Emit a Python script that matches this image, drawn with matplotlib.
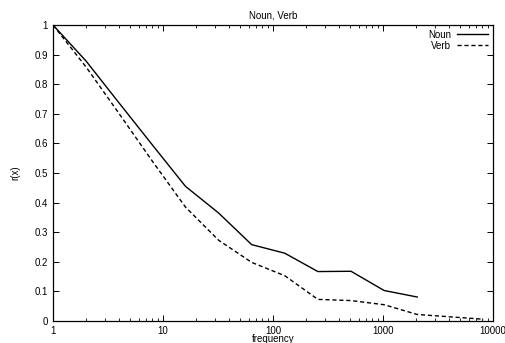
import matplotlib
matplotlib.use("Agg")
import matplotlib.pyplot as plt
from matplotlib.ticker import LogLocator, NullFormatter

# data (x at powers of two)
noun_x = [1, 2, 4, 8, 16, 32, 64, 128, 256, 512, 1024, 2048]
noun_r = [1.0, 0.878, 0.736, 0.595, 0.455, 0.365, 0.258, 0.229, 0.167, 0.168, 0.103, 0.081]
verb_x = [1, 2, 4, 8, 16, 32, 64, 128, 256, 512, 1024, 2048, 4096, 8192]
verb_r = [1.0, 0.858, 0.70, 0.54, 0.385, 0.273, 0.198, 0.153, 0.073, 0.069, 0.055, 0.022, 0.014, 0.006]

xticks = [1, 10, 100, 1000, 10000]
xtick_labels = ["1", "10", "100", "1000", "10000"]
yticks = [0, 0.1, 0.2, 0.3, 0.4, 0.5, 0.6, 0.7, 0.8, 0.9, 1]
ytick_labels = ["0", "0.1", "0.2", "0.3", "0.4", "0.5", "0.6", "0.7", "0.8", "0.9", "1"]

plt.rcParams["font.family"] = ["Liberation Sans", "DejaVu Sans"]

fig = plt.figure(figsize=(5.05, 3.43), dpi=100)
ax = fig.add_axes([53 / 505, 1 - 321 / 343, 440 / 505, 296 / 343])

ax.plot(noun_x, noun_r, color="black", lw=1.0, label="Noun")
ax.plot(verb_x, verb_r, color="black", lw=1.0, ls=(0, (3, 2)), label="Verb")

ax.set_xscale("log")
ax.set_xlim(1, 10000)
ax.set_ylim(0, 1)
ax.set_xticks(xticks)
ax.set_xticklabels(xtick_labels)
ax.xaxis.set_minor_locator(LogLocator(base=10, subs=range(2, 10)))
ax.xaxis.set_minor_formatter(NullFormatter())
ax.set_yticks(yticks)
ax.set_yticklabels(ytick_labels)

ax.tick_params(which="both", direction="in", top=True, right=True, labelsize=7)
ax.tick_params(which="major", length=4, width=0.7)
ax.tick_params(which="minor", length=2, width=0.6)
for s in ax.spines.values():
    s.set_linewidth(0.9)

ax.set_title("Noun, Verb", fontsize=7, pad=5)
ax.set_xlabel("frequency", fontsize=7, labelpad=-1)
ax.set_ylabel("r(x)", fontsize=7, labelpad=10)

ax.legend(loc="upper right", frameon=False, fontsize=7, markerfirst=False,
          handlelength=3.2, handletextpad=0.6, labelspacing=0.1,
          borderaxespad=0.1, bbox_to_anchor=(1.0, 1.0))

fig.savefig("out.png", dpi=100)
